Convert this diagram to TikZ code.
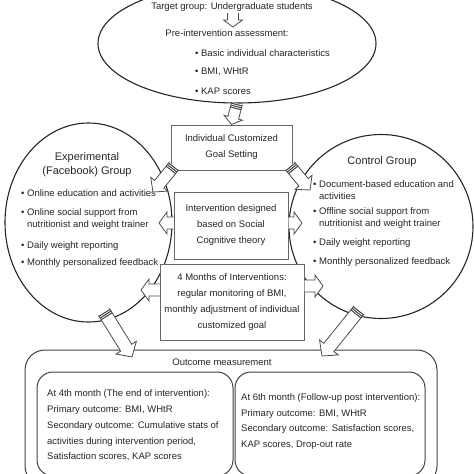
\documentclass[tikz,border=0pt]{standalone}
\usepackage{fontspec}
\setmainfont{Liberation Sans}
\usetikzlibrary{calc,shapes.geometric}
\tikzset{
 ovalshape/.style={ellipse, draw=black!85, line width=1.1pt, inner sep=0pt},
 stepbox/.style={rectangle, draw=black!60, line width=1pt, fill=white, align=center, inner sep=0pt, text=black!85, font=\fontsize{9.5}{16}\selectfont},
 txt/.style={inner sep=0pt, font=\fontsize{9.5}{12}\selectfont, text=black!85},
 itemtxt/.style={txt, anchor=west, align=left},
 arrowline/.style={draw=black!70, line width=0.8pt, line join=miter},
 roundbox/.style={rectangle, draw=black!75, line width=1pt, rounded corners=16pt, inner sep=0pt},
 bandline/.style={draw=black!75, line width=1pt},
}
% #1 tail, #2 tip, #3 half shaft width, #4 half head width, #5 head length
\newcommand\blockarrow[5]{%
  \coordinate (ba-h) at ($(#2)!#5!(#1)$);
  \fill[white] ($(#1)!#3!90:(#2)$) -- ($(ba-h)!#3!90:(#2)$) -- ($(ba-h)!#4!90:(#2)$) -- (#2)
     -- ($(ba-h)!#4!-90:(#2)$) -- ($(ba-h)!#3!-90:(#2)$) -- ($(#1)!#3!-90:(#2)$) -- cycle;
  \draw[arrowline] ($(#1)!#3!90:(#2)$) -- ($(ba-h)!#3!90:(#2)$) -- ($(ba-h)!#4!90:(#2)$) -- (#2)
     -- ($(ba-h)!#4!-90:(#2)$) -- ($(ba-h)!#3!-90:(#2)$) -- ($(#1)!#3!-90:(#2)$);
}
\newcommand\tailband[3]{% #1 tail, #2 tip, #3 half shaft
  \foreach \d in {1pt,3pt,5pt}{
    \coordinate (bb-t) at ($(#1)!\d!(#2)$);
    \draw[bandline] ($(bb-t)!#3!90:(#2)$) -- ($(bb-t)!#3!-90:(#2)$);
  }
}
\begin{document}
\begin{tikzpicture}[x=1pt,y=-1pt]
\useasboundingbox (0,0) rectangle (474,474);
\clip (0,0) rectangle (474,474);

% ---- top ellipse
\node[ovalshape, minimum width=278pt, minimum height=119pt] (top) at (237,43.5) {};
\node[txt] (target) at (232,7) {Target group: Undergraduate students};
\node[txt] (pre) at (227,33) {Pre-intervention assessment:};
\node[itemtxt] (b1) at (195,53) {• Basic individual characteristics};
\node[itemtxt] (b2) at (195,72) {• BMI, WHtR};
\node[itemtxt] (b3) at (195,91) {• KAP scores};
\coordinate (ta) at (233,13);
\coordinate (tb) at (233,27);
\blockarrow{ta}{tb}{5.5pt}{9.5pt}{7pt}

% ---- side groups
\node[ovalshape, minimum width=167pt, minimum height=199pt] (exp) at (88.5,222.5) {};
\node[ovalshape, minimum width=184pt, minimum height=184pt] (ctl) at (381,226.5) {};

\node[txt, align=center, font=\fontsize{11}{14}\selectfont] (expt) at (87,165) {Experimental\\(Facebook) Group};
\node[itemtxt] (e1) at (21,193) {• Online education and activities};
\node[itemtxt] (e2) at (21,219) {• Online social support from\\\hphantom{• }nutritionist and weight trainer};
\node[itemtxt] (e3) at (21,246) {• Daily weight reporting};
\node[itemtxt] (e4) at (21,263) {• Monthly personalized feedback};

\node[txt, font=\fontsize{11}{14}\selectfont] (ctlt) at (382,162) {Control Group};
\node[itemtxt] (c1) at (313,190) {• Document-based education and\\\hphantom{• }activities};
\node[itemtxt] (c2) at (313,218) {• Offline social support from\\\hphantom{• }nutritionist and weight trainer};
\node[itemtxt] (c3) at (313,243) {• Daily weight reporting};
\node[itemtxt] (c4) at (313,262) {• Monthly personalized feedback};

% ---- centre boxes
\node[stepbox, minimum width=121pt, minimum height=45pt] (goal) at (231.5,147.5) {Individual Customized\\Goal Setting};
\node[stepbox, minimum width=114pt, minimum height=67pt] (theory) at (231,225.5) {Intervention designed\\based on Social\\Cognitive theory};
\node[stepbox, minimum width=144pt, minimum height=76pt] (months) at (232,302) {4 Months of Interventions:\\regular monitoring of BMI,\\monthly adjustment of individual\\customized goal};

% ---- outcome
\node[roundbox, rounded corners=20pt, minimum width=412pt, minimum height=136pt] (outcome) at (231,418) {};
\node[txt] (outt) at (222,362) {Outcome measurement};
\node[roundbox, minimum width=196pt, minimum height=104pt] (out4) at (135,424) {};
\node[roundbox, minimum width=190pt, minimum height=104pt] (out6) at (330,424) {};
\node[txt, anchor=west, align=left, font=\fontsize{9.5}{15.8}\selectfont] (o4) at (47,425.5) {At 4th month (The end of intervention):\\Primary outcome: BMI, WHtR\\Secondary outcome: Cumulative stats of\\activities during intervention period,\\Satisfaction scores, KAP scores};
\node[txt, anchor=west, align=left, font=\fontsize{9.5}{15.8}\selectfont] (o6) at (241,421.5) {At 6th month (Follow-up post intervention):\\Primary outcome: BMI, WHtR\\Secondary outcome: Satisfaction scores,\\KAP scores, Drop-out rate};

% ---- arrows
\blockarrow{top.south}{goal.north}{5.5pt}{9.5pt}{7pt}
\tailband{top.south}{goal.north}{5.5pt}

\coordinate (g1a) at (174,166); \coordinate (g1b) at (153,192);
\blockarrow{g1a}{g1b}{6pt}{11pt}{10pt}
\tailband{g1a}{g1b}{6pt}
\coordinate (g2a) at (290,166); \coordinate (g2b) at (310,190);
\blockarrow{g2a}{g2b}{6pt}{11pt}{10pt}
\tailband{g2a}{g2b}{6pt}

\coordinate (t1a) at (theory.west |- 0,223); \coordinate (t1b) at (159,223);
\blockarrow{t1a}{t1b}{6pt}{11pt}{8pt}
\coordinate (t2a) at (theory.east |- 0,223); \coordinate (t2b) at (302,223);
\blockarrow{t2a}{t2b}{6pt}{11pt}{8pt}

\coordinate (m1a) at (months.west |- 0,290); \coordinate (m1b) at (141,290);
\blockarrow{m1a}{m1b}{6pt}{11pt}{8pt}
\coordinate (m2a) at (months.east |- 0,286); \coordinate (m2b) at (323,286);
\blockarrow{m2a}{m2b}{6pt}{11pt}{8pt}

\coordinate (x1a) at (104,312); \coordinate (x1b) at (132,357);
\blockarrow{x1a}{x1b}{6.5pt}{12pt}{11pt}
\tailband{x1a}{x1b}{6.5pt}
\coordinate (x2a) at (359,310); \coordinate (x2b) at (322,356);
\blockarrow{x2a}{x2b}{6.5pt}{12pt}{11pt}
\tailband{x2a}{x2b}{6.5pt}
\end{tikzpicture}
\end{document}
